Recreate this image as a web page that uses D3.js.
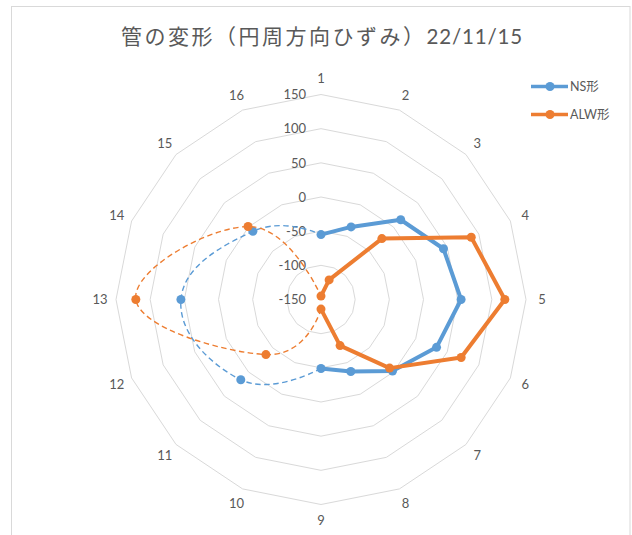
<!DOCTYPE html>
<html>
<head>
<meta charset="utf-8">
<script src="https://cdn.jsdelivr.net/npm/d3@7"></script>
<style>
  html, body { margin: 0; padding: 0; background: #fff; }
  svg { display: block; }
</style>
</head>
<body>
<svg id="chart" width="632" height="535"></svg>
<script>
// Measurement positions around the pipe (16 points)
const positions = ["1","2","3","4","5","6","7","8","9","10","11","12","13","14","15","16"];

// Circumferential strain, measured points 1–9
const nsValues  = [-55, -35, 15, 44, 55, 33, -2, -36, -49, null, null, null, null, null, null, null];
const alwValues = [-145, -119, -24, 88, 119, 72, -8, -77, -136, null, null, null, null, null, null, null];

// Estimated values on the opposite side (points 9 → 11 → 13 → 15 → 1)
const nsEstimated  = [-55, null, null, null, null, null, null, null, -49, null, 16, null, 55, null, -9, null];
const alwEstimated = [-145, null, null, null, null, null, null, null, -136, null, -36, null, 121, null, 1, null];
const estimateOrder = [8, 10, 12, 14, 0];

// Radial axis ticks
const tickValues = [-150, -100, -50, 0, 50, 100, 150];

const seriesNames = ["NS形", "ALW形"];
const colors = ["#5B9BD5", "#ED7D31"];

const svg = d3.select("#chart");
const W = 632, H = 535;
const cx = 321, cy = 299.5, R = 205;

svg.append("rect").attr("width", W).attr("height", H).attr("fill", "#fff");
svg.append("rect")
  .attr("x", 11.5).attr("y", 6.5).attr("width", 618.5).attr("height", 600)
  .attr("fill", "none").attr("stroke", "#D9D9D9").attr("stroke-width", 1);

const r = d3.scaleLinear().domain([-150, 150]).range([0, R]);
const angle = d3.scaleLinear().domain([0, positions.length]).range([0, 2 * Math.PI]);

const g = svg.append("g").attr("transform", `translate(${cx},${cy})`);

// Grid rings (16-sided polygons)
const ring = d3.lineRadial().curve(d3.curveLinearClosed)
  .angle((d, i) => angle(i)).radius(d => r(d));
g.append("g").selectAll("path")
  .data(tickValues.filter(v => v > -150))
  .join("path")
  .attr("d", v => ring(positions.map(() => v)))
  .attr("fill", "none").attr("stroke", "#D9D9D9").attr("stroke-width", 1);

// Radial tick labels along position 1
g.append("g").selectAll("text")
  .data(tickValues)
  .join("text")
  .attr("x", -15).attr("y", v => -r(v))
  .attr("dy", "0.36em")
  .attr("text-anchor", "end")
  .attr("font-family", "Lato, 'Noto Sans', sans-serif")
  .attr("font-size", 13).attr("fill", "#595959")
  .text(v => v);

// Position labels
g.append("g").selectAll("text")
  .data(positions)
  .join("text")
  .attr("x", (d, i) => Math.sin(angle(i)) * (R + 16))
  .attr("y", (d, i) => -Math.cos(angle(i)) * (R + 16))
  .attr("dy", "0.36em")
  .attr("text-anchor", "middle")
  .attr("font-family", "Lato, 'Noto Sans', sans-serif")
  .attr("font-size", 13).attr("fill", "#595959")
  .text(d => d);

const px = (i, v) => Math.sin(angle(i)) * r(v);
const py = (i, v) => -Math.cos(angle(i)) * r(v);

// Estimated (dashed, smoothed) curves
[nsEstimated, alwEstimated].forEach((vals, s) => {
  const pts = estimateOrder.map(i => [px(i, vals[i]), py(i, vals[i])]);
  g.append("path")
    .attr("d", d3.line().curve(d3.curveCardinal.tension(-0.35))(pts))
    .attr("fill", "none").attr("stroke", colors[s])
    .attr("stroke-width", 1.4).attr("stroke-dasharray", "5.5,3.5");
  g.append("g").selectAll("circle")
    .data(estimateOrder.filter(i => i !== 0 && i !== 8))
    .join("circle")
    .attr("cx", i => px(i, vals[i])).attr("cy", i => py(i, vals[i]))
    .attr("r", 4.5).attr("fill", colors[s]);
});

// Measured series (solid lines with markers)
[nsValues, alwValues].forEach((vals, s) => {
  const line = d3.lineRadial()
    .defined(d => d != null)
    .angle((d, i) => angle(i)).radius(d => r(d));
  g.append("path")
    .attr("d", line(vals))
    .attr("fill", "none").attr("stroke", colors[s])
    .attr("stroke-width", 4).attr("stroke-linejoin", "round");
  g.append("g").selectAll("circle")
    .data(vals.map((v, i) => ({ v, i })).filter(d => d.v != null))
    .join("circle")
    .attr("cx", d => px(d.i, d.v)).attr("cy", d => py(d.i, d.v))
    .attr("r", 4.5).attr("fill", colors[s]);
});

// Title
const title = svg.append("text")
  .attr("x", 322).attr("y", 44)
  .attr("text-anchor", "middle").attr("fill", "#595959");
title.append("tspan")
  .attr("font-family", "'Noto Sans CJK JP', sans-serif")
  .attr("font-size", 21).attr("letter-spacing", 2.5)
  .text("管の変形（円周方向ひずみ）");
title.append("tspan")
  .attr("font-family", "Lato, sans-serif")
  .attr("font-size", 20.5).attr("letter-spacing", 0.8)
  .text("22/11/15");

// Legend
const legend = svg.append("g");
seriesNames.forEach((name, s) => {
  const y = 86.5 + s * 28;
  legend.append("line")
    .attr("x1", 531).attr("x2", 568).attr("y1", y).attr("y2", y)
    .attr("stroke", colors[s]).attr("stroke-width", 3.5);
  legend.append("circle").attr("cx", 550).attr("cy", y).attr("r", 4.5).attr("fill", colors[s]);
  legend.append("text")
    .attr("x", 570).attr("y", y).attr("dy", "0.36em")
    .attr("font-family", "Lato, 'Noto Sans CJK JP', sans-serif")
    .attr("font-size", 12.5).attr("fill", "#595959")
    .text(name);
});
</script>
</body>
</html>
